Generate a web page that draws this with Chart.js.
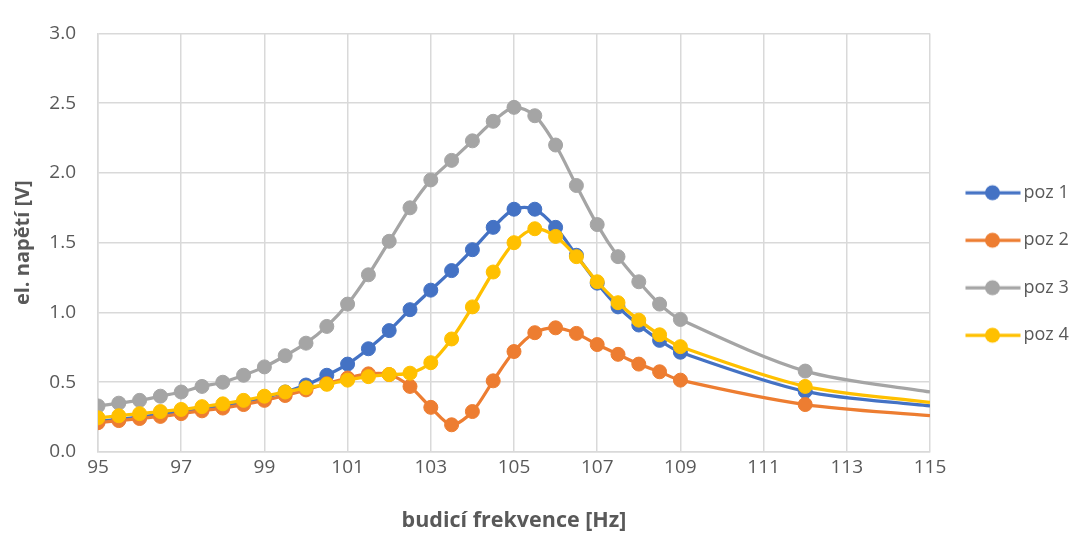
<!DOCTYPE html>
<html>
<head>
<meta charset="utf-8">
<script src="https://cdn.jsdelivr.net/npm/chart.js@4"></script>
<style>
body { margin: 0; background: #fff; }
</style>
</head>
<body>
<canvas id="chart" width="1077" height="533"></canvas>
<script>
// budicí frekvence [Hz]
const freq = [95, 95.5, 96, 96.5, 97, 97.5, 98, 98.5, 99, 99.5, 100, 100.5, 101, 101.5, 102, 102.5,
    103, 103.5, 104, 104.5, 105, 105.5, 106, 106.5, 107, 107.5, 108, 108.5, 109, 112, 115];

// el. napětí [V]
const poz1 = [0.22, 0.235, 0.25, 0.27, 0.29, 0.31, 0.33, 0.36, 0.39, 0.43, 0.48, 0.55, 0.63, 0.74, 0.87, 1.02,
    1.16, 1.30, 1.45, 1.61, 1.74, 1.74, 1.61, 1.41, 1.21, 1.04, 0.91, 0.80, 0.715, 0.435, 0.33];
const poz2 = [0.21, 0.225, 0.24, 0.255, 0.275, 0.295, 0.315, 0.34, 0.37, 0.405, 0.445, 0.49, 0.53, 0.56, 0.555, 0.47,
    0.32, 0.195, 0.29, 0.51, 0.72, 0.855, 0.89, 0.85, 0.77, 0.70, 0.63, 0.575, 0.515, 0.34, 0.26];
const poz3 = [0.33, 0.35, 0.37, 0.40, 0.43, 0.47, 0.50, 0.55, 0.61, 0.69, 0.78, 0.90, 1.06, 1.27, 1.51, 1.75,
    1.95, 2.09, 2.23, 2.37, 2.47, 2.41, 2.20, 1.91, 1.63, 1.40, 1.22, 1.06, 0.95, 0.58, 0.43];
const poz4 = [0.245, 0.26, 0.275, 0.29, 0.305, 0.325, 0.345, 0.37, 0.40, 0.43, 0.46, 0.485, 0.515, 0.54, 0.555, 0.565,
    0.64, 0.81, 1.04, 1.29, 1.50, 1.60, 1.545, 1.40, 1.22, 1.07, 0.945, 0.84, 0.755, 0.47, 0.355];

const seriesNames = ['poz 1', 'poz 2', 'poz 3', 'poz 4'];
const seriesValues = [poz1, poz2, poz3, poz4];
const seriesColors = ['#4472C4', '#ED7D31', '#A5A5A5', '#FFC000'];

const textColor = '#595959';
const gridColor = '#D9D9D9';
const fontFamily = '"Open Sans", Lato, sans-serif';

// legend icon: short line with a marker, like in Excel
function legendIcon(color) {
    let c = document.createElement('canvas');
    c.width = 72;
    c.height = 18;
    let g = c.getContext('2d');
    g.strokeStyle = color;
    g.lineWidth = 3.25;
    g.beginPath();
    g.moveTo(14.5, 9);
    g.lineTo(69.5, 9);
    g.stroke();
    g.fillStyle = color;
    g.beginPath();
    g.arc(41.5, 9, 7.5, 0, Math.PI * 2);
    g.fill();
    return c;
}
const icons = seriesColors.map(legendIcon);

let datasets = [];
for (let i = 0; i < seriesNames.length; i++) {
    datasets.push({
        label: seriesNames[i],
        data: freq.map((f, j) => ({x: f, y: seriesValues[i][j]})),
        borderColor: seriesColors[i],
        backgroundColor: seriesColors[i],
        borderWidth: 3.25,
        pointRadius: ctx => ctx.dataIndex === freq.length - 1 ? 0 : 7,
        pointBorderWidth: 1,
        pointHoverRadius: 7,
        tension: 0.3,
        order: seriesNames.length - i
    });
}

// Excel centers the legend on the whole chart, move it up a bit
const legendShift = {
    id: 'legendShift',
    afterLayout(chart) {
        chart.legend.top -= 14.5;
        chart.legend.bottom -= 14.5;
    }
};

new Chart(document.getElementById('chart').getContext('2d'), {
    type: 'line',
    data: {datasets: datasets},
    plugins: [legendShift],
    options: {
        responsive: false,
        animation: false,
        layout: {padding: {top: 24, right: 0, bottom: 0, left: 0}},
        plugins: {
            tooltip: {enabled: false},
            legend: {
                position: 'right',
                maxWidth: 147,
                labels: {
                    usePointStyle: true,
                    pointStyleWidth: 55,
                    padding: 29.5,
                    color: textColor,
                    font: {family: fontFamily, size: 18},
                    sort: (a, b) => a.datasetIndex - b.datasetIndex,
                    generateLabels: chart => Chart.defaults.plugins.legend.labels.generateLabels(chart)
                        .map(l => Object.assign(l, {pointStyle: icons[l.datasetIndex]}))
                }
            }
        },
        scales: {
            x: {
                type: 'linear',
                min: 95,
                max: 115,
                ticks: {stepSize: 2, color: textColor, padding: 4, font: {family: fontFamily, size: 19}},
                grid: {color: gridColor, lineWidth: 1.5, drawTicks: false},
                border: {color: gridColor, width: 1.5},
                title: {
                    display: true,
                    text: 'budicí frekvence [Hz]',
                    color: textColor,
                    font: {family: fontFamily, size: 21.5, weight: 'bold'},
                    padding: {top: 0, bottom: -1}
                },
                afterFit: scale => { scale.height = 81; }
            },
            y: {
                min: 0,
                max: 3,
                ticks: {
                    stepSize: 0.5,
                    color: textColor,
                    padding: 22,
                    font: {family: fontFamily, size: 19},
                    callback: v => v.toFixed(1)
                },
                grid: {color: gridColor, lineWidth: 1.5, drawTicks: false},
                border: {color: gridColor, width: 1.5},
                title: {
                    display: true,
                    text: 'el. napětí [V]',
                    color: textColor,
                    font: {family: fontFamily, size: 20, weight: 'bold'},
                    padding: {top: 11, bottom: 0}
                },
                afterFit: scale => { scale.width = 98; }
            }
        }
    }
});
</script>
</body>
</html>
